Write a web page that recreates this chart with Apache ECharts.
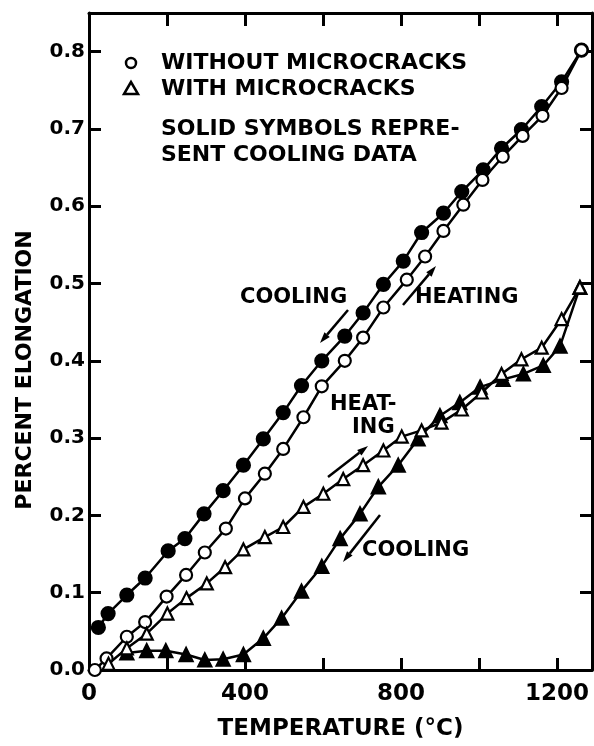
<!DOCTYPE html>
<html>
<head>
<meta charset="utf-8">
<script src="https://cdn.jsdelivr.net/npm/echarts@6/dist/echarts.min.js"></script>
<style>html,body{margin:0;padding:0;background:#fff}#c{width:594px;height:746px}</style>
</head>
<body>
<div id="c"></div>
<script>
// Without microcracks, heating (open circles)
const noCrackHeatT = [15, 45, 97, 144, 199, 249, 297, 351, 400, 451, 498, 550, 597, 656, 703, 755, 815, 862, 909, 960, 1009, 1061, 1112, 1163, 1212, 1263];
const noCrackHeatE = [0.0, 0.015, 0.043, 0.062, 0.095, 0.123, 0.152, 0.183, 0.222, 0.254, 0.286, 0.327, 0.367, 0.400, 0.430, 0.469, 0.505, 0.535, 0.568, 0.602, 0.634, 0.664, 0.691, 0.717, 0.753, 0.802];
// Without microcracks, cooling (solid circles)
const noCrackCoolT = [1263, 1212, 1161, 1109, 1058, 1011, 956, 909, 853, 806, 755, 703, 656, 597, 545, 498, 447, 396, 344, 295, 246, 203, 144, 97, 49, 24];
const noCrackCoolE = [0.802, 0.761, 0.729, 0.699, 0.675, 0.647, 0.619, 0.591, 0.566, 0.529, 0.499, 0.462, 0.432, 0.400, 0.368, 0.333, 0.299, 0.265, 0.232, 0.202, 0.170, 0.154, 0.119, 0.097, 0.073, 0.055];
// With microcracks, heating (open triangles)
const crackHeatT = [50, 97, 148, 201, 250, 302, 349, 396, 451, 498, 550, 601, 652, 703, 755, 802, 853, 904, 956, 1007, 1058, 1109, 1161, 1212, 1259];
const crackHeatE = [0.008, 0.028, 0.047, 0.073, 0.093, 0.112, 0.133, 0.156, 0.172, 0.185, 0.211, 0.228, 0.247, 0.265, 0.284, 0.302, 0.310, 0.320, 0.337, 0.359, 0.383, 0.402, 0.417, 0.454, 0.495];
// With microcracks, cooling (solid triangles)
const crackCoolT = [1259, 1208, 1165, 1114, 1062, 1003, 951, 900, 844, 793, 742, 695, 644, 597, 545, 494, 447, 396, 344, 297, 249, 197, 148, 97];
const crackCoolE = [0.495, 0.419, 0.394, 0.383, 0.376, 0.366, 0.346, 0.329, 0.299, 0.265, 0.237, 0.202, 0.170, 0.134, 0.102, 0.067, 0.041, 0.020, 0.014, 0.013, 0.020, 0.025, 0.025, 0.022];

const xTickLabels = ['0', '', '400', '', '800', '', '1200'];
const yTickLabels = ['0.0', '0.1', '0.2', '0.3', '0.4', '0.5', '0.6', '0.7', '0.8'];

const FONT = 'DejaVu Sans';
const pair = (xs, ys) => xs.map((x, i) => [x, ys[i]]);

function series(name, xs, ys, symbol, filled, size, z) {
  return {
    name, type: 'line', data: pair(xs, ys), symbol, symbolSize: size,
    showAllSymbol: true, z,
    lineStyle: { color: '#000', width: 2.5 },
    itemStyle: { color: filled ? '#000' : '#fff', borderColor: '#000', borderWidth: 2.2 },
    emphasis: { disabled: true }, animation: false
  };
}

const chart = echarts.init(document.getElementById('c'), null, { renderer: 'canvas' });
const axisLine = { show: true, onZero: false, lineStyle: { color: '#000', width: 3 } };
const tick = (len) => ({ show: true, inside: true, length: len, lineStyle: { color: '#000', width: 3 } });

chart.setOption({
  backgroundColor: '#fff',
  animation: false,
  grid: { left: 89, right: 2, top: 13, bottom: 74 },
  xAxis: [
    {
      type: 'value', min: 0, max: 1290, interval: 200, position: 'bottom',
      axisLine, axisTick: tick(12), splitLine: { show: false },
      axisLabel: {
        showMaxLabel: false, margin: 13, color: '#000', fontFamily: FONT, fontWeight: 'bold', fontSize: 23,
        formatter: (v) => { const i = Math.round(v / 200); return (Math.abs(v - i * 200) < 1e-6 && i < xTickLabels.length) ? xTickLabels[i] : ''; }
      },
      name: 'TEMPERATURE (°C)', nameLocation: 'middle', nameGap: 48,
      nameTextStyle: { color: '#000', fontFamily: FONT, fontWeight: 'bold', fontSize: 23 }
    },
    {
      type: 'value', min: 0, max: 1290, interval: 200, position: 'top',
      axisLine, axisTick: tick(13), axisLabel: { show: false }, splitLine: { show: false }
    }
  ],
  yAxis: [
    {
      type: 'value', min: 0, max: 0.85, interval: 0.1, position: 'left',
      axisLine, axisTick: tick(12), splitLine: { show: false },
      axisLabel: {
        showMaxLabel: false, margin: 4, color: '#000', fontFamily: FONT, fontWeight: 'bold', fontSize: 20,
        padding: [5, 0, 0, 0],
        formatter: (v) => { const i = Math.round(v * 10); return (Math.abs(v - i / 10) < 1e-6 && i < yTickLabels.length) ? yTickLabels[i] : ''; }
      }
    },
    {
      type: 'value', min: 0, max: 0.85, interval: 0.1, position: 'right',
      axisLine, axisTick: tick(12), axisLabel: { show: false }, splitLine: { show: false }
    }
  ],
  series: [
    series('without-cool', noCrackCoolT, noCrackCoolE, 'circle', true, 13, 3),
    series('without-heat', noCrackHeatT, noCrackHeatE, 'circle', false, 12, 4),
    series('with-cool', crackCoolT, crackCoolE, 'triangle', true, 13, 3),
    series('with-heat', crackHeatT, crackHeatE, 'triangle', false, 12, 4)
  ]
});

const txt = (x, y, s, size, align) => ({
  type: 'text', x, y, z: 10,
  style: { text: s, fill: '#000', font: 'bold ' + size + 'px "' + FONT + '"', textAlign: align || 'left', textVerticalAlign: 'middle' }
});
function arrow(x1, y1, x2, y2) {
  const ang = Math.atan2(y2 - y1, x2 - x1);
  const L = 11, W = 3.5;
  const bx = x2 - L * Math.cos(ang), by = y2 - L * Math.sin(ang);
  const px = -Math.sin(ang) * W, py = Math.cos(ang) * W;
  return [
    { type: 'line', z: 10, shape: { x1, y1, x2: bx, y2: by }, style: { stroke: '#000', lineWidth: 2.5 } },
    { type: 'polygon', z: 10, shape: { points: [[x2, y2], [bx + px, by + py], [bx - px, by - py]] }, style: { fill: '#000' } }
  ];
}

chart.setOption({
  graphic: [
    {
      type: 'text', x: 25, y: 370, rotation: Math.PI / 2, z: 10,
      style: { text: 'PERCENT ELONGATION', fill: '#000', font: 'bold 22px "' + FONT + '"', textAlign: 'center', textVerticalAlign: 'middle' }
    },
    { type: 'circle', z: 10, shape: { cx: 131, cy: 63, r: 5 }, style: { fill: '#fff', stroke: '#000', lineWidth: 2.5 } },
    { type: 'polygon', z: 10, shape: { points: [[131, 82], [124, 94], [138, 94]] }, style: { fill: '#fff', stroke: '#000', lineWidth: 2.5 } },
    txt(161, 63, 'WITHOUT MICROCRACKS', 22),
    txt(161, 89, 'WITH MICROCRACKS', 22),
    txt(161, 129, 'SOLID SYMBOLS REPRE-', 22),
    txt(161, 155, 'SENT COOLING DATA', 22),
    txt(240, 298, 'COOLING', 21),
    txt(415, 298, 'HEATING', 21),
    txt(330, 405, 'HEAT-', 21),
    txt(352, 428, 'ING', 21),
    txt(362, 551, 'COOLING', 21),
    ...arrow(348, 310, 320, 343),
    ...arrow(403, 305, 436, 266),
    ...arrow(328, 477, 368, 446),
    ...arrow(380, 515, 343, 562)
  ]
});
</script>
</body>
</html>
